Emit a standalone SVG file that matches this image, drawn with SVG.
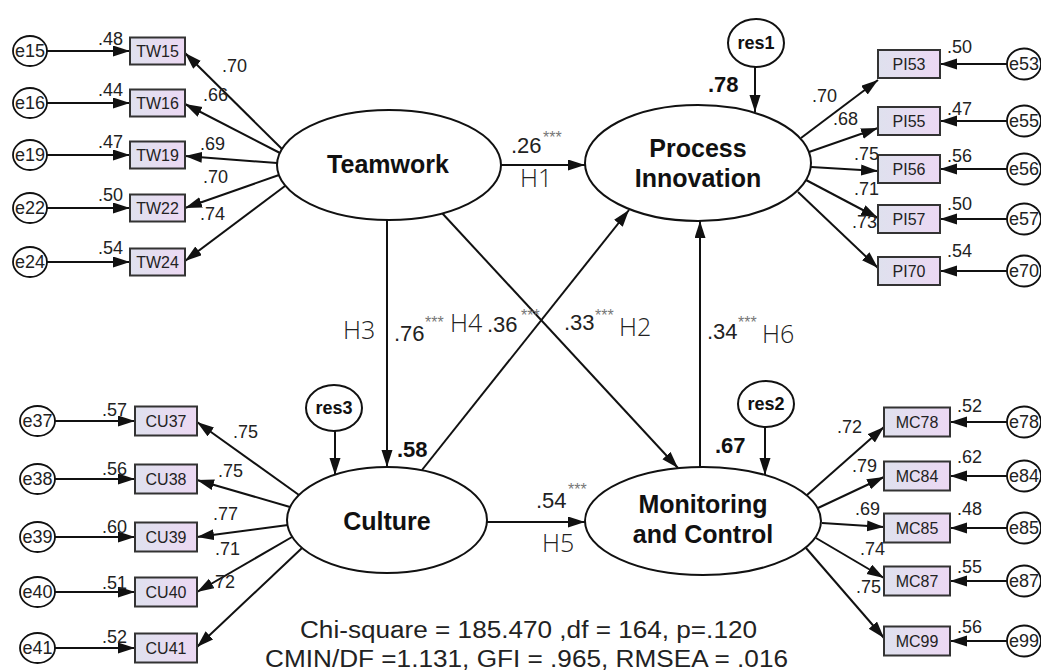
<svg xmlns="http://www.w3.org/2000/svg" width="1041" height="672" viewBox="0 0 1041 672">
<defs>
<linearGradient id="boxfill" x1="0" y1="0" x2="1" y2="0">
<stop offset="0" stop-color="#dfe1ee"/>
<stop offset="1" stop-color="#ecd8f3"/>
</linearGradient>
<marker id="ah" markerUnits="userSpaceOnUse" markerWidth="18" markerHeight="12" refX="17" refY="5.5" orient="auto">
<path d="M0,0 L17,5.5 L0,11 z" fill="#111"/>
</marker>
<style>
.ln{stroke:#111;stroke-width:2;fill:none;marker-end:url(#ah)}
.lat{fill:#fff;stroke:#111;stroke-width:2}
.box{fill:url(#boxfill);stroke:#333;stroke-width:2}
.err{fill:#fff;stroke:#111;stroke-width:1.8}
.res{fill:#fff;stroke:#111;stroke-width:2}
.lt{font-family:"Liberation Sans",Arial,sans-serif;font-weight:bold;font-size:25px;fill:#111;text-anchor:middle}
.bt{font-family:"Liberation Sans",Arial,sans-serif;font-size:16px;fill:#222;text-anchor:middle}
.et{font-family:"Liberation Sans",Arial,sans-serif;font-size:18px;fill:#222;text-anchor:middle}
.rt{font-family:"Liberation Sans",Arial,sans-serif;font-size:18px;font-weight:bold;fill:#111;text-anchor:middle}
.n{font-family:"Liberation Sans",Arial,sans-serif;font-size:18px;fill:#222}
.pc{font-family:"Liberation Sans",Arial,sans-serif;font-size:22px;fill:#222}
.r2{font-family:"Liberation Sans",Arial,sans-serif;font-size:22px;font-weight:bold;fill:#111}
.st{font-family:"Liberation Sans",Arial,sans-serif;font-size:16px;fill:#777}
.h{font-family:"Open Sans","Liberation Sans",sans-serif;font-weight:300;font-size:25px;fill:#222}
.fit{font-family:"Liberation Sans",Arial,sans-serif;font-size:23px;fill:#222}
</style>
</defs>
<rect width="1041" height="672" fill="#fff"/>

<g id="connectors">
<line class="ln" x1="501" y1="165" x2="585" y2="165"/>
<line class="ln" x1="387" y1="220" x2="387" y2="467"/>
<line class="ln" x1="422" y1="470" x2="629" y2="210"/>
<line class="ln" x1="442" y1="213" x2="678" y2="468"/>
<line class="ln" x1="700" y1="467" x2="700" y2="221"/>
<line class="ln" x1="487" y1="522" x2="585" y2="522"/>
<line class="ln" x1="755" y1="66" x2="755" y2="112"/>
<line class="ln" x1="335" y1="431" x2="335" y2="475"/>
<line class="ln" x1="765" y1="427" x2="765" y2="475"/>
<line class="ln" x1="282" y1="149" x2="185" y2="53"/>
<line class="ln" x1="280" y1="153" x2="185" y2="104"/>
<line class="ln" x1="277" y1="163" x2="185" y2="156"/>
<line class="ln" x1="279" y1="175" x2="185" y2="208"/>
<line class="ln" x1="285" y1="186" x2="185" y2="261"/>
<line class="ln" x1="47" y1="51" x2="130" y2="51"/>
<line class="ln" x1="47" y1="103" x2="130" y2="103"/>
<line class="ln" x1="47" y1="155" x2="130" y2="155"/>
<line class="ln" x1="47" y1="208" x2="130" y2="208"/>
<line class="ln" x1="47" y1="262" x2="130" y2="262"/>
<line class="ln" x1="801" y1="138" x2="878" y2="80"/>
<line class="ln" x1="809" y1="152" x2="878" y2="128"/>
<line class="ln" x1="811" y1="167" x2="878" y2="171"/>
<line class="ln" x1="806" y1="180" x2="878" y2="218"/>
<line class="ln" x1="798" y1="192" x2="878" y2="268"/>
<line class="ln" x1="1007" y1="64" x2="940" y2="64"/>
<line class="ln" x1="1007" y1="121" x2="940" y2="121"/>
<line class="ln" x1="1007" y1="169" x2="940" y2="169"/>
<line class="ln" x1="1007" y1="219" x2="940" y2="219"/>
<line class="ln" x1="1007" y1="271" x2="940" y2="271"/>
<line class="ln" x1="299" y1="495" x2="197" y2="422"/>
<line class="ln" x1="290" y1="507" x2="197" y2="480"/>
<line class="ln" x1="288" y1="525" x2="197" y2="537"/>
<line class="ln" x1="292" y1="537" x2="197" y2="592"/>
<line class="ln" x1="302" y1="548" x2="197" y2="647"/>
<line class="ln" x1="55" y1="421" x2="135" y2="421"/>
<line class="ln" x1="55" y1="479" x2="135" y2="479"/>
<line class="ln" x1="55" y1="537" x2="135" y2="537"/>
<line class="ln" x1="55" y1="592" x2="135" y2="592"/>
<line class="ln" x1="55" y1="648" x2="135" y2="648"/>
<line class="ln" x1="807" y1="495" x2="884" y2="427"/>
<line class="ln" x1="818" y1="508" x2="884" y2="477"/>
<line class="ln" x1="822" y1="523" x2="884" y2="527"/>
<line class="ln" x1="816" y1="538" x2="884" y2="578"/>
<line class="ln" x1="806" y1="548" x2="884" y2="638"/>
<line class="ln" x1="1007" y1="422" x2="950" y2="422"/>
<line class="ln" x1="1007" y1="476" x2="950" y2="476"/>
<line class="ln" x1="1007" y1="528" x2="950" y2="528"/>
<line class="ln" x1="1007" y1="581" x2="950" y2="581"/>
<line class="ln" x1="1007" y1="641" x2="950" y2="641"/>
</g>

<g id="teamwork"><ellipse class="lat" cx="389" cy="165" rx="112" ry="55"/><text class="lt" x="388" y="173">Teamwork</text></g>
<g id="process-innovation"><ellipse class="lat" cx="698" cy="163" rx="113" ry="58"/><text class="lt" x="698" y="157">Process</text><text class="lt" x="698" y="187">Innovation</text></g>
<g id="culture"><ellipse class="lat" cx="387" cy="520" rx="100" ry="53"/><text class="lt" x="387" y="530">Culture</text></g>
<g id="monitoring-control"><ellipse class="lat" cx="703" cy="521" rx="118" ry="54"/><text class="lt" x="703" y="513">Monitoring</text><text class="lt" x="703" y="543">and Control</text></g>

<g id="res1"><ellipse class="res" cx="756" cy="43" rx="28" ry="24"/><text class="rt" x="756" y="49">res1</text></g>
<g id="res2"><ellipse class="res" cx="766" cy="404" rx="28" ry="23"/><text class="rt" x="766" y="410">res2</text></g>
<g id="res3"><ellipse class="res" cx="334" cy="408" rx="28" ry="23"/><text class="rt" x="334" y="414">res3</text></g>

<g id="TW15"><rect class="box" x="130" y="37.5" width="55" height="27"/><text class="bt" x="157.5" y="57">TW15</text></g>
<g id="TW16"><rect class="box" x="130" y="89.5" width="55" height="27"/><text class="bt" x="157.5" y="109">TW16</text></g>
<g id="TW19"><rect class="box" x="130" y="141.5" width="55" height="27"/><text class="bt" x="157.5" y="161">TW19</text></g>
<g id="TW22"><rect class="box" x="130" y="194.5" width="55" height="27"/><text class="bt" x="157.5" y="214">TW22</text></g>
<g id="TW24"><rect class="box" x="130" y="248.5" width="55" height="27"/><text class="bt" x="157.5" y="268">TW24</text></g>

<g id="e15"><ellipse class="err" cx="30" cy="51" rx="17" ry="15"/><text class="et" x="30" y="57">e15</text></g>
<g id="e16"><ellipse class="err" cx="30" cy="103" rx="17" ry="15"/><text class="et" x="30" y="109">e16</text></g>
<g id="e19"><ellipse class="err" cx="30" cy="155" rx="17" ry="15"/><text class="et" x="30" y="161">e19</text></g>
<g id="e22"><ellipse class="err" cx="30" cy="208" rx="17" ry="15"/><text class="et" x="30" y="214">e22</text></g>
<g id="e24"><ellipse class="err" cx="30" cy="262" rx="17" ry="15"/><text class="et" x="30" y="268">e24</text></g>

<g id="PI53"><rect class="box" x="878" y="50" width="62" height="28"/><text class="bt" x="909" y="70">PI53</text></g>
<g id="PI55"><rect class="box" x="878" y="107" width="62" height="28"/><text class="bt" x="909" y="127">PI55</text></g>
<g id="PI56"><rect class="box" x="878" y="155" width="62" height="28"/><text class="bt" x="909" y="175">PI56</text></g>
<g id="PI57"><rect class="box" x="878" y="205" width="62" height="28"/><text class="bt" x="909" y="225">PI57</text></g>
<g id="PI70"><rect class="box" x="878" y="257" width="62" height="28"/><text class="bt" x="909" y="277">PI70</text></g>

<g id="e53"><ellipse class="err" cx="1024" cy="64" rx="17" ry="15.5"/><text class="et" x="1024" y="70">e53</text></g>
<g id="e55"><ellipse class="err" cx="1024" cy="121" rx="17" ry="15.5"/><text class="et" x="1024" y="127">e55</text></g>
<g id="e56"><ellipse class="err" cx="1024" cy="169" rx="17" ry="15.5"/><text class="et" x="1024" y="175">e56</text></g>
<g id="e57"><ellipse class="err" cx="1024" cy="219" rx="17" ry="15.5"/><text class="et" x="1024" y="225">e57</text></g>
<g id="e70"><ellipse class="err" cx="1024" cy="271" rx="17" ry="15.5"/><text class="et" x="1024" y="277">e70</text></g>

<g id="CU37"><rect class="box" x="135" y="406.5" width="62" height="29"/><text class="bt" x="166" y="427">CU37</text></g>
<g id="CU38"><rect class="box" x="135" y="464.5" width="62" height="29"/><text class="bt" x="166" y="485">CU38</text></g>
<g id="CU39"><rect class="box" x="135" y="522.5" width="62" height="29"/><text class="bt" x="166" y="543">CU39</text></g>
<g id="CU40"><rect class="box" x="135" y="577.5" width="62" height="29"/><text class="bt" x="166" y="598">CU40</text></g>
<g id="CU41"><rect class="box" x="135" y="633.5" width="62" height="29"/><text class="bt" x="166" y="654">CU41</text></g>

<g id="e37"><ellipse class="err" cx="37.5" cy="421" rx="17.5" ry="15"/><text class="et" x="37.5" y="427">e37</text></g>
<g id="e38"><ellipse class="err" cx="37.5" cy="479" rx="17.5" ry="15"/><text class="et" x="37.5" y="485">e38</text></g>
<g id="e39"><ellipse class="err" cx="37.5" cy="537" rx="17.5" ry="15"/><text class="et" x="37.5" y="543">e39</text></g>
<g id="e40"><ellipse class="err" cx="37.5" cy="592" rx="17.5" ry="15"/><text class="et" x="37.5" y="598">e40</text></g>
<g id="e41"><ellipse class="err" cx="37.5" cy="648" rx="17.5" ry="15"/><text class="et" x="37.5" y="654">e41</text></g>

<g id="MC78"><rect class="box" x="884" y="407.5" width="66" height="29"/><text class="bt" x="917" y="428">MC78</text></g>
<g id="MC84"><rect class="box" x="884" y="461.5" width="66" height="29"/><text class="bt" x="917" y="482">MC84</text></g>
<g id="MC85"><rect class="box" x="884" y="513.5" width="66" height="29"/><text class="bt" x="917" y="534">MC85</text></g>
<g id="MC87"><rect class="box" x="884" y="566.5" width="66" height="29"/><text class="bt" x="917" y="587">MC87</text></g>
<g id="MC99"><rect class="box" x="884" y="626.5" width="66" height="29"/><text class="bt" x="917" y="647">MC99</text></g>

<g id="e78"><ellipse class="err" cx="1024" cy="422" rx="17" ry="15.5"/><text class="et" x="1024" y="428">e78</text></g>
<g id="e84"><ellipse class="err" cx="1024" cy="476" rx="17" ry="15.5"/><text class="et" x="1024" y="482">e84</text></g>
<g id="e85"><ellipse class="err" cx="1024" cy="528" rx="17" ry="15.5"/><text class="et" x="1024" y="534">e85</text></g>
<g id="e87"><ellipse class="err" cx="1024" cy="581" rx="17" ry="15.5"/><text class="et" x="1024" y="587">e87</text></g>
<g id="e99"><ellipse class="err" cx="1024" cy="641" rx="17" ry="15.5"/><text class="et" x="1024" y="647">e99</text></g>

<g id="labels">
<text class="n" x="98" y="45">.48</text><text class="n" x="98" y="96">.44</text><text class="n" x="98" y="148">.47</text><text class="n" x="98" y="201">.50</text><text class="n" x="98" y="254">.54</text>
<text class="n" x="222" y="72">.70</text><text class="n" x="203" y="101">.66</text><text class="n" x="200" y="150">.69</text><text class="n" x="203" y="183">.70</text><text class="n" x="200" y="220">.74</text>
<text class="n" x="947" y="53">.50</text><text class="n" x="947" y="115">.47</text><text class="n" x="947" y="162">.56</text><text class="n" x="947" y="210">.50</text><text class="n" x="947" y="257">.54</text>
<text class="n" x="812" y="102">.70</text><text class="n" x="833" y="125">.68</text><text class="n" x="854" y="160">.75</text><text class="n" x="854" y="195">.71</text><text class="n" x="852" y="228">.73</text>
<text class="n" x="102" y="416">.57</text><text class="n" x="102" y="475">.56</text><text class="n" x="102" y="533">.60</text><text class="n" x="102" y="589">.51</text><text class="n" x="102" y="643">.52</text>
<text class="n" x="233" y="438">.75</text><text class="n" x="218" y="477">.75</text><text class="n" x="213" y="520">.77</text><text class="n" x="215" y="555">.71</text><text class="n" x="210" y="588">.72</text>
<text class="n" x="957" y="412">.52</text><text class="n" x="957" y="463">.62</text><text class="n" x="957" y="515">.48</text><text class="n" x="957" y="573">.55</text><text class="n" x="957" y="633">.56</text>
<text class="n" x="837" y="433">.72</text><text class="n" x="852" y="472">.79</text><text class="n" x="855" y="515">.69</text><text class="n" x="860" y="555">.74</text><text class="n" x="856" y="593">.75</text>
<text class="pc" x="511" y="153">.26</text><text class="st" x="543" y="143">***</text><text class="h" x="520" y="187">H1</text>
<text class="h" x="343" y="339">H3</text><text class="pc" x="394" y="341">.76</text><text class="st" x="425" y="328">***</text>
<text class="h" x="450" y="332">H4</text><text class="pc" x="487" y="332">.36</text><text class="st" x="521" y="321">***</text>
<text class="pc" x="564" y="330">.33</text><text class="st" x="595" y="321">***</text><text class="h" x="619" y="336">H2</text>
<text class="pc" x="707" y="339">.34</text><text class="st" x="738" y="328">***</text><text class="h" x="762" y="343">H6</text>
<text class="pc" x="536" y="508">.54</text><text class="st" x="568" y="495">***</text><text class="h" x="542" y="552">H5</text>
<text class="r2" x="708" y="92">.78</text><text class="r2" x="397" y="457">.58</text><text class="r2" x="715" y="453">.67</text>
<text class="fit" x="300" y="638" textLength="457" lengthAdjust="spacingAndGlyphs">Chi-square = 185.470 ,df = 164, p=.120</text>
<text class="fit" x="265" y="667" textLength="523" lengthAdjust="spacingAndGlyphs">CMIN/DF =1.131, GFI = .965, RMSEA = .016</text>
</g>
</svg>
